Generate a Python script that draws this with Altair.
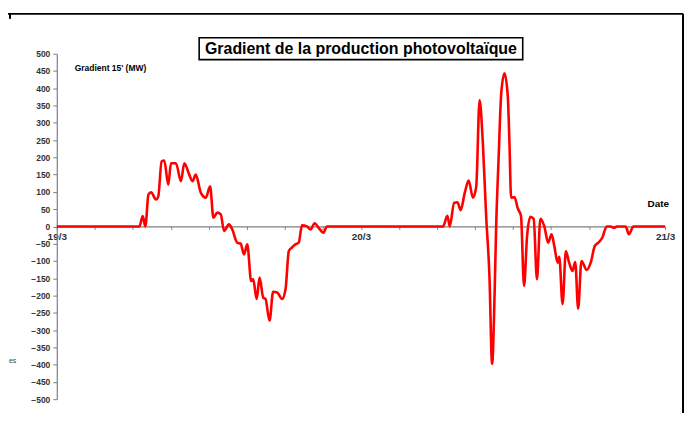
import altair as alt
import pandas as pd

# Hours since 19/3 00:00 and 15-minute PV production gradient (MW)
hours = [0, 6.52, 6.78, 6.99, 7.23, 7.44, 7.83, 8.01, 8.27, 8.48, 8.80, 9.01, 9.40, 9.80,
         10.06, 10.45, 10.71, 10.97, 11.37, 11.76, 12.10, 12.36, 12.67, 12.94, 13.20,
         13.59, 13.85, 14.24, 14.51, 14.77, 15.03, 15.34, 15.50, 15.77, 16.00, 16.29,
         16.47, 16.79, 17.07, 17.39, 17.78, 18.05, 18.31, 18.56, 18.83, 19.09, 19.35,
         19.74, 20.01, 20.35, 20.66, 21.05, 21.31,
         30.48, 30.82, 31.01, 31.35, 31.61, 31.87, 32.19, 32.50, 32.84, 33.10, 33.36,
         33.62, 33.88, 34.14, 34.35, 34.55, 34.67, 34.86, 35.07, 35.33, 35.59, 35.72,
         35.85, 36.11, 36.37, 36.63, 36.87, 37.11, 37.37, 37.63, 37.89, 38.16, 38.47,
         38.78, 39.04, 39.26, 39.52, 39.65, 39.91, 40.17, 40.43, 40.69, 40.91, 41.14,
         41.40, 41.82, 42.13, 42.45, 42.79, 43.05, 43.39, 43.70, 43.97, 44.20, 44.88,
         45.15, 45.49, 48]
gradient = [0, 0, 30, 0, 92, 99, 78, 87, 188, 191, 121, 183, 183, 131,
            183, 150, 131, 150, 97, 83, 116, 25, 40, 35, -13,
            6, -9, -47, -50, -81, -52, -158, -153, -210, -148, -206,
            -210, -273, -189, -191, -210, -182, -71, -61, -52, -47, 3,
            0, -9, 9, -4, -18, 0,
            0, 31, 0, 68, 70, 47, 97, 133, 83, 116, 366,
            241, 30, -143, -398, -191, 0, 193, 385, 443, 375, 241,
            83, 85, 53, 30, -172, -28, 28, 22, -153, 22, 0,
            -47, -23, -57, -105, -88, -225, -72, -105, -129, -103, -238,
            -100, -126, -105, -57, -45, -32, 0, 0, -4, 0, 0,
            -23, 0, 0]

y_ticks = list(range(-500, 501, 50))
x_ticks = list(range(0, 49, 3))

title_text = "Gradient de la production photovoltaïque"
y_title = "Gradient 15'  (MW)"
x_title = "Date"

df = pd.DataFrame({"h": hours, "g": gradient})

W, H = 611, 347
FONT = "Liberation Sans"

label_expr = ("datum.value == 0 ? '19/3' : datum.value == 24 ? '20/3' : "
              "datum.value == 48 ? '21/3' : ''")

line = alt.Chart(df).mark_line(
    color="#ff0000", strokeWidth=2.6, interpolate="monotone"
).encode(
    x=alt.X("h:Q", scale=alt.Scale(domain=[0, 48], nice=False, zero=False),
            axis=alt.Axis(values=x_ticks, labelExpr=label_expr, title=None,
                          offset=-H / 2, domainColor="#808080", domainWidth=1.2,
                          tickColor="#808080", tickSize=3, labelFont=FONT,
                          labelFontWeight="bold", labelFontSize=10,
                          labelColor="#333333", labelPadding=2, grid=False,
                          labelOverlap=False, labelFlush=False)),
    y=alt.Y("g:Q", scale=alt.Scale(domain=[-500, 500], nice=False),
            axis=alt.Axis(values=y_ticks, title=None, domainColor="#808080",
                          domainWidth=1.2, tickColor="#808080", tickSize=4,
                          labelFont=FONT, labelFontWeight="bold", labelFontSize=8.5,
                          labelColor="#333333", labelPadding=3, grid=False,
                          labelOverlap=False)),
)

def txt(s, x, y, size, align="left", weight="bold", color="black"):
    return alt.Chart(pd.DataFrame({"t": [s]})).mark_text(
        font=FONT, fontSize=size, fontWeight=weight, align=align,
        baseline="middle", color=color
    ).encode(x=alt.value(x), y=alt.value(y), text="t:N")

title_box = alt.Chart(pd.DataFrame({"a": [0]})).mark_rect(
    fill="white", stroke="black", strokeWidth=1.6
).encode(x=alt.value(143), x2=alt.value(468), y=alt.value(-16), y2=alt.value(6))

frame_top = alt.Chart(pd.DataFrame({"a": [0]})).mark_rule(
    color="black", strokeWidth=2
).encode(x=alt.value(-49), x2=alt.value(629), y=alt.value(-40))
frame_right = alt.Chart(pd.DataFrame({"a": [0]})).mark_rule(
    color="black", strokeWidth=2
).encode(x=alt.value(629), y=alt.value(-40), y2=alt.value(370))
frame_tick = alt.Chart(pd.DataFrame({"a": [0]})).mark_rule(
    color="black", strokeWidth=2
).encode(x=alt.value(-47), y=alt.value(-40), y2=alt.value(-35))

chart = alt.layer(
    frame_top, frame_right, frame_tick,
    line,
    title_box,
    txt(title_text, 305.5, -5, 16, align="center"),
    txt(y_title, 18, 14, 8.5),
    txt(x_title, 615, 151, 10, align="right"),
    txt("es", -48, 309, 7, weight="normal", color="#444444"),
).properties(
    width=W, height=H,
    autosize=alt.AutoSizeParams(type="none"),
    padding={"left": 49, "top": 45, "right": 20, "bottom": 13},
).configure_view(stroke=None)

chart.save("out.html", embed_options={"renderer": "svg", "actions": False})
